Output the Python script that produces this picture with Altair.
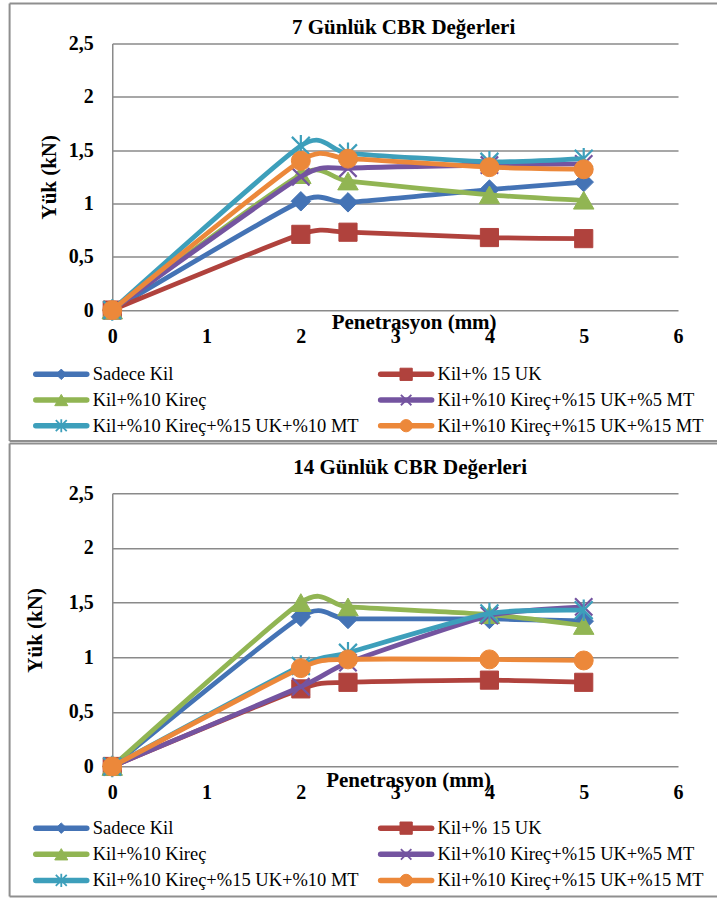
import altair as alt
import pandas as pd

# ---------------- data ----------------
penetrasyon = [0, 2, 2.5, 4, 5]
seriler = [
    "Sadece Kil",
    "Kil+% 15 UK",
    "Kil+%10 Kireç",
    "Kil+%10 Kireç+%15 UK+%5 MT",
    "Kil+%10 Kireç+%15 UK+%10 MT",
    "Kil+%10 Kireç+%15 UK+%15 MT",
]
yuk_7gun = [
    [0, 1.02, 1.01, 1.13, 1.20],
    [0, 0.71, 0.73, 0.68, 0.67],
    [0, 1.27, 1.21, 1.08, 1.03],
    [0, 1.25, 1.33, 1.36, 1.37],
    [0, 1.54, 1.47, 1.39, 1.42],
    [0, 1.40, 1.42, 1.34, 1.32],
]
yuk_14gun = [
    [0, 1.37, 1.35, 1.35, 1.33],
    [0, 0.71, 0.77, 0.79, 0.77],
    [0, 1.50, 1.46, 1.39, 1.29],
    [0, 0.73, 0.95, 1.38, 1.46],
    [0, 0.92, 1.04, 1.40, 1.43],
    [0, 0.90, 0.98, 0.98, 0.97],
]
x_etiketleri = [0, 1, 2, 3, 4, 5, 6]
y_etiketleri = [0, 0.5, 1, 1.5, 2, 2.5]
basliklar = ["7 Günlük CBR Değerleri", "14 Günlük CBR Değerleri"]

# ---------------- styles ----------------
renkler = ["#4473B5", "#B0423D", "#91B553", "#7454A0", "#3D9FBB", "#EC883A"]
isaretler = ["diamond", "square", "triangle-up",
             "M-1,-1L1,1M-1,1L1,-1",
             "M-1,-1L1,1M-1,1L1,-1M0,-1.2L0,1.2",
             "circle"]
cizgi_isaret = [False, False, False, True, True, False]
boyut_grafik = [380, 330, 420, 300, 320, 360]
boyut_lejant = [110, 150, 170, 110, 120, 150]

FONT = "Liberation Serif, Times New Roman, serif"
GRI = "#8a8a8a"
CERCEVE = "#8f8f8f"
W = 566


def panel(degerler, baslik, H, b_top, b_bot, t_xy, yt_x, xt_xy, leg_range):
    x_enc = alt.X(
        "x:Q",
        scale=alt.Scale(domain=[0, 6], nice=False, zero=False),
        axis=alt.Axis(
            values=x_etiketleri, grid=False, domain=False, ticks=False, tickSize=0,
            labelFont=FONT, labelFontSize=20, labelFontWeight="bold", labelColor="black",
            labelPadding=32, labelBaseline="alphabetic", labelFlush=False, labelOverlap=False,
            title="Penetrasyon (mm)", titleFont=FONT, titleFontSize=21,
            titleFontWeight="bold", titleColor="black",
            titleX=xt_xy[0], titleY=xt_xy[1], titleBaseline="alphabetic", titleAlign="center",
        ),
    )
    y_enc = alt.Y(
        "y:Q",
        scale=alt.Scale(domain=[0, 2.5], nice=False),
        axis=alt.Axis(
            values=y_etiketleri, grid=True, gridColor=GRI, gridWidth=1.5,
            domain=True, domainColor=GRI, domainWidth=1.5, ticks=False, tickSize=0,
            labelExpr="replace(toString(datum.value), '.', ',')",
            labelFont=FONT, labelFontSize=20, labelFontWeight="bold", labelColor="black",
            labelPadding=19, labelFlush=False, labelBaseline="middle",
            title="Yük (kN)", titleFont=FONT, titleFontSize=21, titleFontWeight="bold",
            titleColor="black", titleAngle=270, titleX=yt_x, titleY=H / 2,
            titleBaseline="alphabetic", titleAlign="center",
        ),
    )

    plot_layers = []
    for i, s in enumerate(seriler):
        df = pd.DataFrame({"x": penetrasyon, "y": degerler[i]})
        c = renkler[i]
        line = alt.Chart(df).mark_line(
            interpolate="cardinal", tension=0.4, color=c, strokeWidth=4.8, strokeJoin="round"
        ).encode(x=x_enc, y=y_enc)
        pts = alt.Chart(df).mark_point(
            shape=isaretler[i], size=boyut_grafik[i], filled=True, fill=c, stroke=c,
            strokeWidth=2.2 if cizgi_isaret[i] else 1, opacity=1,
        ).encode(x=x_enc, y=y_enc)
        plot_layers += [line, pts]
    plot = alt.layer(*plot_layers)

    lx = alt.X("col:Q", scale=alt.Scale(domain=[0, 1], range=[-76.5, 268.5], nice=False, zero=False), axis=None)
    ly = alt.Y("row:Q", scale=alt.Scale(domain=[0, 2], range=leg_range, nice=False, zero=False), axis=None)
    leg_layers = []
    for i, s in enumerate(seriler):
        d = pd.DataFrame({"col": [i % 2], "row": [i // 2]})
        c = renkler[i]
        leg_layers.append(
            alt.Chart(d).mark_rule(color=c, strokeWidth=5.5, strokeCap="round", x2Offset=51)
            .encode(x=lx, x2="col:Q", y=ly)
        )
        leg_layers.append(
            alt.Chart(d).mark_point(
                shape=isaretler[i], size=boyut_lejant[i], filled=True, fill=c, stroke=c,
                strokeWidth=1.8 if cizgi_isaret[i] else 1, opacity=1, xOffset=25.5,
            ).encode(x=lx, y=ly)
        )
        leg_layers.append(
            alt.Chart(d).mark_text(
                text=s, align="left", baseline="middle", font=FONT, fontSize=18.5,
                color="black", xOffset=57,
            ).encode(x=lx, y=ly)
        )
    legend = alt.layer(*leg_layers)

    dummy = pd.DataFrame({"d": [0]})
    b_left, b_right = -102.7, 605
    borders = [
        alt.Chart(dummy).mark_rule(color=CERCEVE, strokeWidth=2).encode(
            x=alt.value(b_left), y=alt.value(b_top), y2=alt.value(b_bot)),
        alt.Chart(dummy).mark_rule(color=CERCEVE, strokeWidth=2).encode(
            x=alt.value(b_left), x2=alt.value(b_right), y=alt.value(b_top)),
        alt.Chart(dummy).mark_rule(color=CERCEVE, strokeWidth=2).encode(
            x=alt.value(b_left), x2=alt.value(b_right), y=alt.value(b_bot)),
    ]
    title = alt.Chart(dummy).mark_text(
        text=baslik, font=FONT, fontSize=21, fontWeight="bold", color="black",
        align="center", baseline="alphabetic",
    ).encode(x=alt.value(t_xy[0]), y=alt.value(t_xy[1]))

    return alt.layer(plot, legend, *borders, title).resolve_scale(
        x="independent", y="independent"
    ).properties(width=W, height=H)


p1 = panel(yuk_7gun, basliklar[0], 266.7, -40, 397.7, (291.5, -9.3), -57, (301.5, 18), [331, 382.4])
p2 = panel(yuk_14gun, basliklar[1], 273.3, -49.7, 403.3, (298, -19.7), -71, (296, 20), [335, 387.3])

chart = alt.vconcat(p1, p2, spacing=0).properties(
    padding={"left": 8.3, "top": 2.3, "right": 0, "bottom": 0}
).configure_view(stroke=None)

chart.save("out.html", embed_options={"renderer": "svg", "actions": False})
